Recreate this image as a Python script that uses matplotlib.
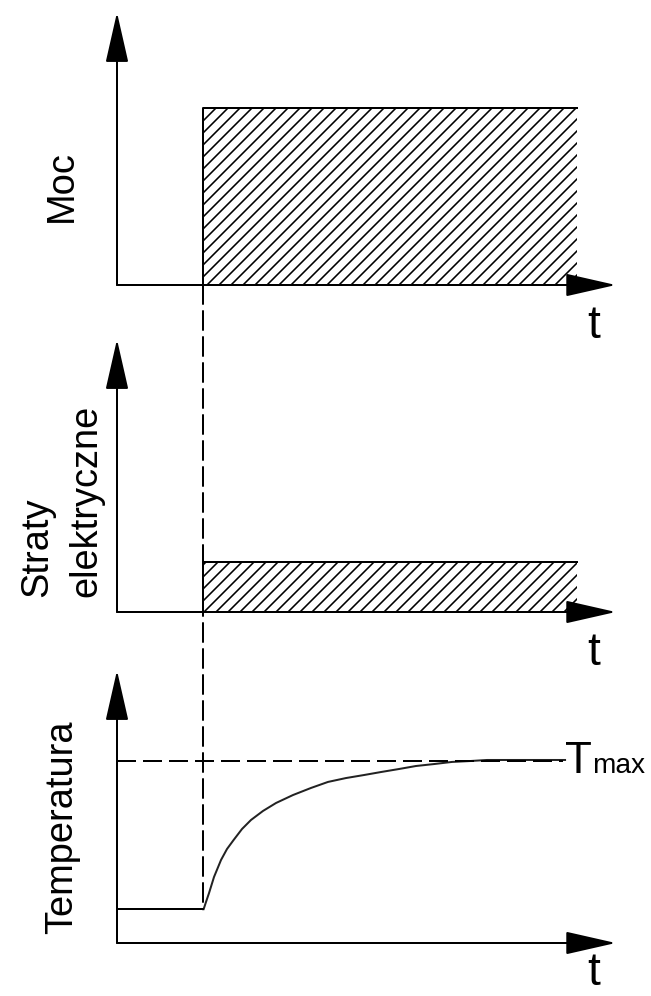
import matplotlib
matplotlib.use("Agg")
import matplotlib.pyplot as plt
from matplotlib.patches import ConnectionPatch

plt.rcParams['font.family'] = ['Liberation Sans', 'DejaVu Sans']
plt.rcParams['hatch.linewidth'] = 0.8

# dane schematu (jednostki umowne)
t_on = 2.0          # chwila zalaczenia
t_end = 10.7        # koniec obszaru zakreskowanego
moc_level = 1.0
straty_level = 0.28
T0 = 0.19
Tmax = 1.03
temp_t = [2.016, 2.07, 2.14, 2.256, 2.419, 2.558, 2.712, 2.907, 3.116, 3.395, 3.698,
          4.093, 4.512, 4.907, 5.326, 5.744, 6.140, 6.558, 6.953, 7.372, 7.791, 8.209,
          8.605, 10.42]
temp_v = [0.192, 0.232, 0.282, 0.373, 0.469, 0.531, 0.582, 0.644, 0.695, 0.746, 0.791,
          0.836, 0.876, 0.910, 0.932, 0.949, 0.966, 0.983, 1.000, 1.011, 1.023, 1.028,
          1.034, 1.034]

labels = ['Moc', 'Straty\nelektryczne', 'Temperatura']
label_y = [0.56, 0.63, 0.655]
t_label_y = [-0.30, -0.30, -0.235]

W, H, dpi = 651, 996, 144
fig = plt.figure(figsize=(W/dpi, H/dpi), dpi=dpi)

xmax, ymax = 11.6, 1.54
px_x, px_y = 43.0, 177.0
bottoms = [285, 612, 943]   # polozenie osi t w pikselach od gory
axes = []
for b, ty in zip(bottoms, t_label_y):
    ax = fig.add_axes([117/W, (H-b)/H, xmax*px_x/W, ymax*px_y/H])
    ax.set_xlim(0, xmax)
    ax.set_ylim(0, ymax)
    ax.axis('off')
    arrow = dict(arrowstyle='-|>,head_length=22,head_width=5', mutation_scale=1,
                 lw=1.0, color='k', shrinkA=0, shrinkB=0)
    ax.annotate('', xy=(xmax, 0), xytext=(0, 0), arrowprops=arrow, annotation_clip=False)
    ax.annotate('', xy=(0, ymax), xytext=(0, 0), arrowprops=arrow, annotation_clip=False)
    ax.text(11.09, ty, 't', fontsize=23, ha='center', va='baseline', clip_on=False)
    axes.append(ax)

ax1, ax2, ax3 = axes
dash = (0, (9.5, 3.5))

for ax, lvl in [(ax1, moc_level), (ax2, straty_level)]:
    ax.fill_between([t_on, t_end], 0, lvl, hatch='////', facecolor='none',
                    edgecolor='k', linewidth=0)
    ax.plot([t_on, t_on, t_end], [0, lvl, lvl], color='k', lw=1.0)

ax3.plot([0, t_on], [T0, T0], color='k', lw=1.0)
ax3.plot(temp_t, temp_v, color='#222222', lw=1.0)
ax3.plot([0, 10.37], [Tmax, Tmax], color='k', lw=1.0, linestyle=dash)
ax3.text(10.42, 0.96, 'T', fontsize=22, ha='left', va='baseline')
ax3.text(11.05, 0.96, 'max', fontsize=14, ha='left', va='baseline', clip_on=False)

for ax, lab, y in zip(axes, labels, label_y):
    ax.text(-1.28, y, lab, fontsize=19, rotation=90, ha='center', va='center',
            multialignment='left', linespacing=1.45, clip_on=False)

con = ConnectionPatch(xyA=(t_on, 0), coordsA='data', axesA=ax1,
                      xyB=(t_on, T0), coordsB='data', axesB=ax3,
                      color='k', lw=1.0, linestyle=dash)
fig.add_artist(con)

fig.savefig('out.png', dpi=dpi)
